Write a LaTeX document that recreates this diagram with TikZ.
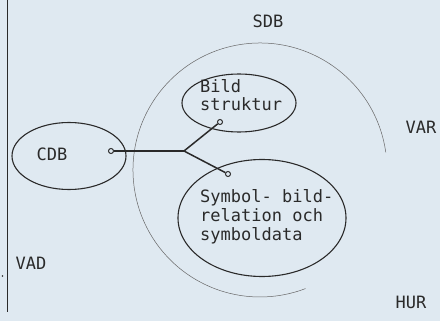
\documentclass[tikz,border=0pt]{standalone}
\usepackage{fontspec}
\setmonofont{DejaVu Sans Mono}
\usetikzlibrary{shapes.geometric}
\definecolor{paper}{HTML}{DFE9F1}
\definecolor{ink}{HTML}{2A2A2A}
\begin{document}
\begin{tikzpicture}[x=1pt,y=-1pt,
  oval/.style={ellipse,draw=ink,line width=1.1pt,inner sep=0pt},
  lbl/.style={font=\ttfamily\fontsize{17}{20}\selectfont,text=ink,inner sep=0pt},
  txt/.style={font=\ttfamily\fontsize{17}{20}\selectfont,text=ink,inner sep=0pt,align=left},
  port/.style={circle,draw=ink,fill=paper,line width=1pt,inner sep=0pt,minimum size=5pt},
  wire/.style={draw=ink,line width=1.5pt}]
\fill[paper] (0,0) rectangle (440,321);
\useasboundingbox (0,0) rectangle (440,321);
% left border
\draw[ink,line width=1pt] (7,0) -- (7,312);
\fill[ink] (2.5,276) circle (0.9);
% SDB outer arc
\draw[gray!80!black,line width=0.5pt] (260,170) ++(-8:127) arc[start angle=-8,end angle=-291,radius=127];
% ellipses
\node[oval,minimum width=114pt,minimum height=67pt] (cdb) at (69,156) {};
\node[oval,minimum width=114pt,minimum height=58pt] (bild) at (239,103) {};
\node[oval,minimum width=168pt,minimum height=117pt] (sym) at (262,218) {};
% texts
\node[lbl] (cdbt) at (52,154) {CDB};
\node[txt,anchor=north west] (bildt) at (200,79) {Bild\\[-2pt]struktur};
\node[txt,anchor=north west] (symt) at (200,189) {Symbol- bild-\\[-1pt]relation och\\[-1pt]symboldata};
\node[lbl] (sdb) at (268,21) {SDB};
\node[lbl] (var) at (421,127) {VAR};
\node[lbl] (vad) at (31,263) {VAD};
\node[lbl] (hur) at (411,302) {HUR};
% connectors
\coordinate (j) at (184,151);
\node[port] (p1) at (111,151) {};
\node[port] (p2) at (220,122) {};
\node[port] (p3) at (228,174) {};
\draw[wire] (p1) -- (j);
\draw[wire] (j) -- (p2);
\draw[wire] (j) -- (p3);
\end{tikzpicture}
\end{document}
